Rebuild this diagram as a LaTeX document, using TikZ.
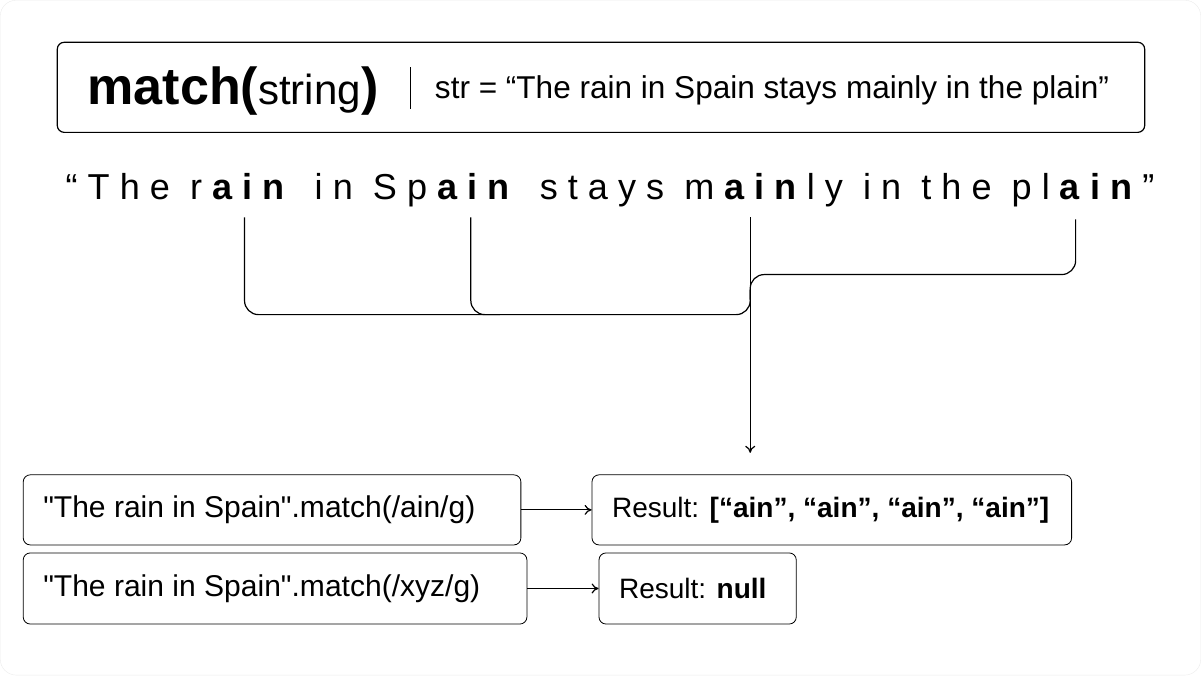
\documentclass[tikz,border=0pt]{standalone}
\usepackage{fontspec}
\newfontfamily\lib{Liberation Sans}
\newfontfamily\spaced[LetterSpace=28]{Liberation Sans}
\usetikzlibrary{arrows.meta}
\begin{document}
\begin{tikzpicture}[x=1pt,y=-1pt,every node/.style={font=\lib},
  box/.style={draw,rounded corners=7pt,line width=0.8pt,inner xsep=20pt,inner ysep=0pt,minimum width=#1,align=left},
  conn/.style={line width=1.2pt,rounded corners=14pt},
  arr/.style={line width=1.2pt,-{To[length=7pt,width=10pt]}}]
\path[use as bounding box,fill=white,draw=gray!15,rounded corners=16pt] (1,1) rectangle (1200,675);
\node[draw,rounded corners=7pt,line width=1.2pt,minimum width=1086pt,minimum height=90pt] (top) at (601,88) {};
\node[anchor=base west,inner sep=0pt] (m) at (88,105) {\lib\fontsize{52}{56}\selectfont\textbf{match(}\fontsize{42}{44}\selectfont string\fontsize{52}{56}\selectfont\textbf{)}};
\coordinate (b1) at (411,68); \coordinate (b2) at (411,110);
\draw[line width=1.4pt] (b1) -- (b2);
\node[anchor=base west,inner sep=0pt] (s) at (435,99) {\lib\fontsize{31.5}{34}\selectfont str = “The rain in Spain stays mainly in the plain”};
\node[anchor=base,inner sep=0pt] (q) at (610,200) {\fontsize{36}{40}\selectfont\spaced “The r\textbf{ain} in Sp\textbf{ain} stays m\textbf{ain}ly in the pl\textbf{ain}”};
\coordinate (a1) at (245,218); \coordinate (a2) at (471,218);
\coordinate (a3) at (750,218); \coordinate (a4) at (1075,220);
\coordinate (j) at (750,290); \coordinate (t) at (750,453);
\draw[conn] (a1) -- (245,315) -- (750,315) -- (j);
\draw[conn] (a2) -- (471,315) -- (500,315);
\draw[conn] (a4) -- (1075,275) -- (750,275) -- (750,300);
\draw[arr] (a3) -- (t);
\node[box=497pt,minimum height=70pt] (q1) at (272.5,510) {\makebox[457pt][l]{\lib\fontsize{30}{32}\selectfont"The rain in Spain".match(/ain/g)}};
\node[box=479pt,minimum height=70pt] (r1) at (831.5,510) {\makebox[439pt][l]{\lib\fontsize{28}{32}\selectfont Result: \textbf{[“ain”, “ain”, “ain”, “ain”]}}};
\node[box=503pt,minimum height=71pt] (q2) at (275.5,588.5) {\makebox[463pt][l]{\lib\fontsize{30}{32}\selectfont"The rain in Spain".match(/xyz/g)}};
\node[box=197pt,minimum height=71pt] (r2) at (697.5,588.5) {\makebox[157pt][l]{\lib\fontsize{28}{32}\selectfont Result: \textbf{null}}};
\draw[arr] (q1) -- (r1);
\draw[arr] (q2) -- (r2);
\end{tikzpicture}
\end{document}
